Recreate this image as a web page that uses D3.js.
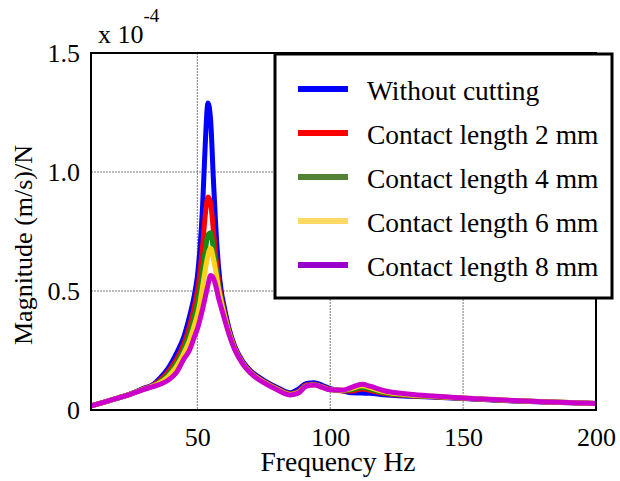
<!DOCTYPE html>
<html>
<head>
<meta charset="utf-8">
<script src="https://cdn.jsdelivr.net/npm/d3@7"></script>
<style>
  body { margin: 0; background: #fff; }
  text { font-family: "Liberation Serif", "Times New Roman", serif; fill: #000; }
</style>
</head>
<body>
<div id="svg-container"></div>
<script>
// data (magnitude in 1e-4 (m/s)/N)
const freqs = [10,15,20,25,30,33,36,39,42,45,47,49,50,51,52,53,54,55,56,57,58,59,60,62,64,67,70,75,80,85,88,91,94,97,100,105,108,112,115,120,130,140,150,165,180,200]

const withoutCutting = [0.017,0.033,0.05,0.068,0.092,0.105,0.135,0.175,0.235,0.31,0.39,0.49,0.56,0.68,0.86,1.12,1.29,1.22,0.98,0.76,0.6,0.5,0.44,0.34,0.27,0.205,0.165,0.125,0.095,0.072,0.088,0.112,0.115,0.104,0.09,0.08,0.072,0.071,0.07,0.064,0.058,0.054,0.048,0.04,0.034,0.027]
const contact2 = [0.017,0.033,0.05,0.068,0.09,0.102,0.125,0.16,0.21,0.28,0.35,0.44,0.5,0.58,0.69,0.82,0.895,0.87,0.76,0.64,0.54,0.47,0.42,0.33,0.265,0.2,0.16,0.12,0.09,0.068,0.078,0.105,0.108,0.098,0.087,0.08,0.08,0.088,0.082,0.07,0.06,0.055,0.049,0.041,0.035,0.027]
const contact4 = [0.017,0.033,0.05,0.068,0.089,0.1,0.12,0.15,0.195,0.26,0.32,0.4,0.45,0.51,0.59,0.67,0.735,0.745,0.68,0.6,0.52,0.46,0.41,0.325,0.26,0.198,0.158,0.118,0.088,0.066,0.075,0.102,0.106,0.097,0.086,0.082,0.085,0.095,0.088,0.073,0.061,0.056,0.049,0.041,0.035,0.027]
const contact6 = [0.017,0.033,0.05,0.067,0.088,0.099,0.115,0.14,0.18,0.24,0.29,0.36,0.4,0.45,0.52,0.59,0.65,0.68,0.64,0.58,0.51,0.455,0.405,0.32,0.258,0.196,0.157,0.117,0.087,0.065,0.073,0.1,0.105,0.096,0.085,0.083,0.09,0.102,0.094,0.077,0.063,0.057,0.05,0.042,0.035,0.027]
const contact8 = [0.017,0.033,0.05,0.067,0.087,0.097,0.108,0.125,0.155,0.215,0.25,0.31,0.34,0.38,0.425,0.475,0.525,0.565,0.555,0.52,0.47,0.43,0.39,0.315,0.255,0.195,0.155,0.115,0.085,0.063,0.071,0.1,0.105,0.095,0.085,0.084,0.095,0.108,0.1,0.082,0.066,0.058,0.05,0.042,0.035,0.027]

const seriesNames = ['Without cutting', 'Contact length 2 mm', 'Contact length 4 mm', 'Contact length 6 mm', 'Contact length 8 mm']
const seriesValues = [withoutCutting, contact2, contact4, contact6, contact8]
const lineColors = ['#0000ff', '#ff0000', '#128c12', '#ffd21a', '#cc00cc']
const legendColors = ['#0000ff', '#ff0000', '#548235', '#ffd966', '#9900cc']

const xTicks = [50, 100, 150, 200]
const yTicks = [0, 0.5, 1.0, 1.5]
const yTickLabels = ['0', '0.5', '1.0', '1.5']

// dimensions
const dim = {
    width: 505,
    height: 357,
    margin: { top: 53, right: 24, bottom: 71, left: 91 }
}

const root = d3.select('#svg-container')
    .append('svg')
        .attr('width', 620)
        .attr('height', 481)

const svg = root.append('g')
    .attr('transform', `translate(${dim.margin.left}, ${dim.margin.top})`)

// scales
const xScale = d3.scaleLinear().domain([10, 200]).range([0, dim.width])
const yScale = d3.scaleLinear().domain([0, 1.5]).range([dim.height, 0])

// grid
const grid = svg.append('g')
    .attr('stroke', '#777')
    .attr('stroke-width', 1)
    .attr('stroke-dasharray', '2,1')
grid.selectAll('.gx')
    .data(xTicks.filter(d => d < 200))
    .join('line')
        .attr('x1', d => xScale(d)).attr('x2', d => xScale(d))
        .attr('y1', 0).attr('y2', dim.height)
grid.selectAll('.gy')
    .data(yTicks.filter(d => d > 0 && d < 1.5))
    .join('line')
        .attr('x1', 0).attr('x2', dim.width)
        .attr('y1', d => yScale(d)).attr('y2', d => yScale(d))

// axes (labels only, no tick marks)
const xAxis = d3.axisBottom(xScale).tickValues(xTicks).tickSize(0).tickPadding(18)
const gx = svg.append('g')
    .attr('transform', `translate(0, ${dim.height})`)
    .call(xAxis)
gx.select('.domain').remove()
gx.selectAll('text')
    .style('font-family', '"Liberation Serif", serif')
    .style('font-size', '26px')
    .attr('fill', '#000')

const yAxis = d3.axisLeft(yScale).tickValues(yTicks).tickSize(0).tickPadding(11)
    .tickFormat((d, i) => yTickLabels[i])
const gy = svg.append('g').call(yAxis)
gy.select('.domain').remove()
gy.selectAll('text')
    .style('font-family', '"Liberation Serif", serif')
    .style('font-size', '26px')
    .attr('fill', '#000')

// lines
const line = d3.line()
    .x((d, i) => xScale(freqs[i]))
    .y(d => yScale(d))
    .curve(d3.curveMonotoneX)

svg.append('g')
    .selectAll('path')
    .data(seriesValues)
    .join('path')
        .attr('d', d => line(d))
        .attr('fill', 'none')
        .attr('stroke', (d, i) => lineColors[i])
        .attr('stroke-width', 5)
        .attr('stroke-linejoin', 'round')

// plot frame
svg.append('rect')
    .attr('width', dim.width)
    .attr('height', dim.height)
    .attr('fill', 'none')
    .attr('stroke', '#000')
    .attr('stroke-width', 2)

// legend
const legend = root.append('g').attr('transform', 'translate(275, 54)')
legend.append('rect')
    .attr('width', 337)
    .attr('height', 244)
    .attr('fill', '#fff')
    .attr('stroke', '#000')
    .attr('stroke-width', 3)
const items = legend.selectAll('.item')
    .data(seriesNames)
    .join('g')
        .attr('transform', (d, i) => `translate(0, ${35 + i * 44})`)
items.append('line')
    .attr('x1', 23).attr('x2', 73)
    .attr('stroke', (d, i) => legendColors[i])
    .attr('stroke-width', 6)
items.append('text')
    .attr('x', 92)
    .attr('y', 11)
    .style('font-size', '27.5px')
    .text(d => d)

// titles
root.append('text')
    .attr('x', 338)
    .attr('y', 471)
    .attr('text-anchor', 'middle')
    .style('font-size', '27.5px')
    .text('Frequency Hz')

root.append('text')
    .attr('transform', 'translate(32, 245) rotate(-90)')
    .attr('text-anchor', 'middle')
    .style('font-size', '26px')
    .text('Magnitude (m/s)/N')

const expo = root.append('text')
    .attr('x', 98)
    .attr('y', 43)
    .style('font-size', '26px')
expo.append('tspan').text('x 10')
expo.append('tspan').attr('dy', -21).style('font-size', '19px').text('-4')
</script>
</body>
</html>
